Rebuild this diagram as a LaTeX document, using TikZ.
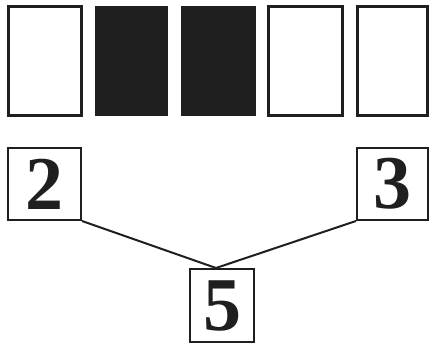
\documentclass[tikz,border=0pt]{standalone}
\usepackage{fontspec}
\setmainfont{Liberation Serif}
\begin{document}
\begin{tikzpicture}[x=1pt,y=-1pt,
  card/.style={draw=black!88,line width=3pt,minimum width=#1,minimum height=109pt,inner sep=0pt},
  blackcard/.style={fill=black!88,minimum width=73pt,minimum height=110pt,inner sep=0pt},
  numbox/.style={draw=black!88,line width=2pt,inner sep=0pt,font=\fontsize{76}{76}\selectfont\bfseries,text=black!88},
  link/.style={draw=black!88,line width=2pt}]
\useasboundingbox (0,0) rectangle (429,344);
\node[card=73pt] (c1) at (45,61) {};
\node[blackcard] (c2) at (131.5,61) {};
\node[blackcard,minimum width=75pt] (c3) at (218.5,61) {};
\node[card=74pt] (c4) at (305.5,61) {};
\node[card=70pt] (c5) at (392.5,61) {};
\node[numbox,minimum width=73pt,minimum height=72pt] (b2) at (44.5,184) {2};
\node[numbox,minimum width=71pt,minimum height=72pt] (b3) at (392.5,184) {3};
\node[numbox,minimum width=64pt,minimum height=73pt] (b5) at (222,305.5) {5};
\coordinate (m) at ([xshift=-6pt]b5.north);
\draw[link] (b2.south east) -- (m);
\draw[link] (b3.south west) -- (m);
\end{tikzpicture}
\end{document}
